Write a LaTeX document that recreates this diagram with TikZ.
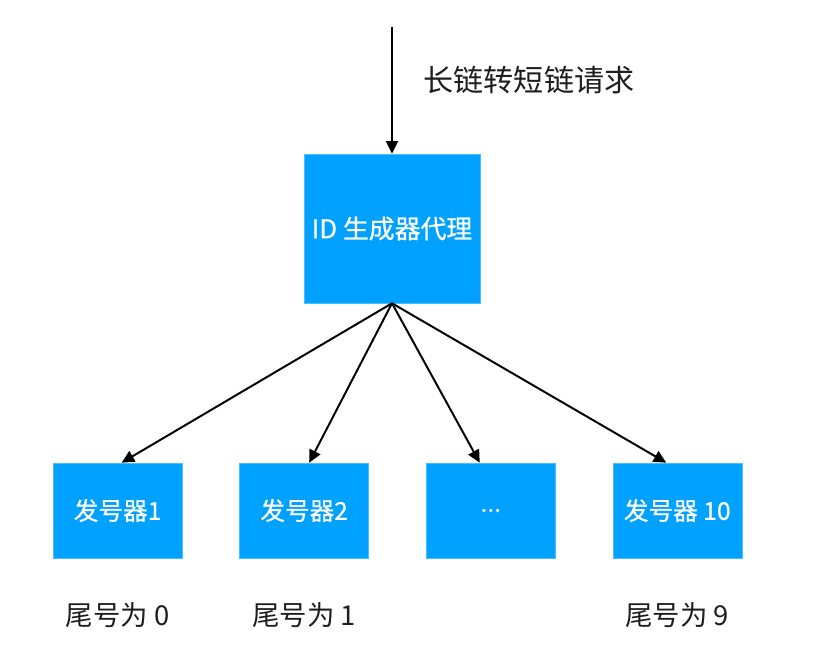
\documentclass[tikz,border=0pt]{standalone}
\usepackage{fontspec}
\setmainfont{Noto Sans CJK SC}
\newfontfamily\boxfont[FakeBold=0.7]{Noto Sans CJK SC}
\usepackage{tikz}
\usetikzlibrary{arrows.meta,positioning}
\definecolor{boxblue}{RGB}{0,161,255}
\definecolor{labelgray}{RGB}{30,30,30}
\tikzset{%
	proxybox/.style = {fill=boxblue, draw=boxblue!70!white, line width=0.4pt, text=white, minimum width=4.4cm, minimum height=3.725cm, font=\boxfont\fontsize{18.4}{21}\selectfont},
	genbox/.style   = {fill=boxblue, draw=boxblue!70!white, line width=0.4pt, text=white, minimum width=3.225cm, minimum height=2.375cm, font=\boxfont\fontsize{17.5}{20}\selectfont},
	tail/.style     = {text=labelgray, inner sep=0pt, font=\fontsize{19.5}{22}\selectfont},
	request/.style  = {text=labelgray, inner sep=0pt, font=\fontsize{21.4}{25}\selectfont},
	arrow/.style    = {line width=1.4pt, -{Triangle[length=9pt,width=8.5pt]}},
}

\begin{document}
\begin{tikzpicture}
	\useasboundingbox (0,0) rectangle (20.95,-16.15);
	\coordinate (in) at (9.8,-0.675);
	\node [request] (req) at (13.225,-2.0) {长链转短链请求};
	\node [proxybox] (proxy) at (9.8,-5.7125) {ID 生成器代理};
	\node [genbox] (gen1) at (2.94,-12.7625) {发号器1};
	\node [genbox] (gen2) [right=1.425cm of gen1] {发号器2};
	\node [genbox] (gen3) [right=1.425cm of gen2] {...};
	\node [genbox] (gen4) [right=1.425cm of gen3] {发号器 10};
	\node [tail] (tail1) [below=1.1cm of gen1] {尾号为 0};
	\node [tail] (tail2) [below=1.1cm of gen2] {尾号为 1};
	\node [tail] (tail4) [below=1.1cm of gen4] {尾号为 9};

	\draw[arrow] (in) -- (proxy.north);
	\draw[arrow] (proxy.south) -- ([xshift=0.1cm]gen1.north);
	\draw[arrow] (proxy.south) -- ([xshift=0.125cm]gen2.north);
	\draw[arrow] (proxy.south) -- ([xshift=-0.275cm]gen3.north);
	\draw[arrow] (proxy.south) -- ([xshift=-0.275cm]gen4.north);
\end{tikzpicture}
\end{document}
